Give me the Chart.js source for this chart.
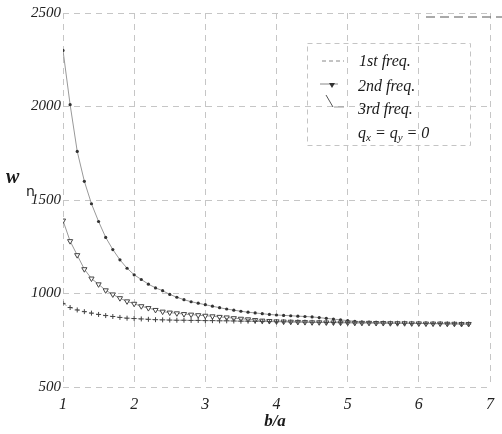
<!DOCTYPE html>
<html>
<head>
<meta charset="utf-8">
<script src="https://cdn.jsdelivr.net/npm/chart.js@4"></script>
<style>
  html, body { margin: 0; padding: 0; background: #fff; }
  #wrap { width: 502px; height: 434px; }
</style>
</head>
<body>
<div id="wrap"><canvas id="grafico"></canvas></div>
<script>
// b/a values
const bRatio = [1.0, 1.1, 1.2, 1.3, 1.4, 1.5, 1.6, 1.7, 1.8, 1.9,
  2.0, 2.1, 2.2, 2.3, 2.4, 2.5, 2.6, 2.7, 2.8, 2.9,
  3.0, 3.1, 3.2, 3.3, 3.4, 3.5, 3.6, 3.7, 3.8, 3.9,
  4.0, 4.1, 4.2, 4.3, 4.4, 4.5, 4.6, 4.7, 4.8, 4.9,
  5.0, 5.1, 5.2, 5.3, 5.4, 5.5, 5.6, 5.7, 5.8, 5.9,
  6.0, 6.1, 6.2, 6.3, 6.4, 6.5, 6.6, 6.7];

const freq1 = [947, 925, 912, 903, 895, 888, 882, 877, 872, 868,
  866, 864, 862, 860, 859, 858, 857, 857, 856, 856,
  855, 855, 854, 854, 853, 852, 852, 851, 850, 850,
  849, 849, 848, 848, 847, 846, 846, 845, 845, 844,
  844, 843, 843, 843, 842, 842, 841, 841, 841, 840,
  840, 839, 839, 839, 838, 838, 837, 837];

const freq2 = [1390, 1280, 1205, 1130, 1080, 1049, 1017, 995, 975, 958,
  945, 932, 922, 912, 903, 898, 894, 890, 887, 884,
  881, 878, 875, 872, 868, 865, 862, 858, 855, 853,
  851, 850, 849, 848, 847, 846, 846, 845, 845, 844,
  844, 843, 843, 843, 842, 842, 841, 841, 841, 840,
  840, 839, 839, 839, 838, 838, 837, 837];

const freq3 = [2300, 2010, 1760, 1600, 1480, 1385, 1300, 1235, 1180, 1135,
  1100, 1075, 1050, 1030, 1015, 995, 980, 967, 956, 948,
  940, 932, 924, 917, 911, 905, 900, 896, 892, 888,
  885, 883, 881, 879, 877, 875, 871, 867, 863, 859,
  855, 851, 847, 845, 844, 843, 842, 842, 841, 841,
  840, 840, 839, 839, 838, 838, 837, 837];

const seriesLabels = ['1st freq.', '2nd freq.', '3rd freq.'];
const xTicks = [1, 2, 3, 4, 5, 6, 7];
const yTicks = [500, 1000, 1500, 2000, 2500];

const serif = '"Liberation Serif", "DejaVu Serif", serif';

function pts(arr) {
  return bRatio.map((x, i) => ({ x: x, y: arr[i] }));
}

// titles, legend box and the stray dashed line of the scan
const decor = {
  id: 'decor',
  afterDraw(chart) {
    const ctx = chart.ctx;
    ctx.save();
    ctx.fillStyle = '#1a1a1a';
    ctx.textBaseline = 'middle';

    // y title: w with subscript n
    ctx.font = 'bold italic 20px ' + serif;
    ctx.textAlign = 'left';
    ctx.fillText('w', 6, 178);
    ctx.font = '14px "DejaVu Sans", sans-serif';
    ctx.fillText('n', 26, 192);

    // x title
    ctx.font = 'bold italic 17px ' + serif;
    ctx.textAlign = 'center';
    ctx.fillText('b/a', 275, 422);

    // legend box
    ctx.strokeStyle = '#c4c4c4';
    ctx.lineWidth = 1;
    ctx.setLineDash([5, 4]);
    ctx.strokeRect(307.5, 43.5, 163, 102);

    ctx.strokeStyle = '#888';
    ctx.setLineDash([4, 3]);
    ctx.beginPath(); ctx.moveTo(322, 61); ctx.lineTo(344, 61); ctx.stroke();
    ctx.setLineDash([]);
    ctx.beginPath(); ctx.moveTo(320, 84); ctx.lineTo(338, 84); ctx.stroke();
    ctx.fillStyle = '#333';
    ctx.beginPath(); ctx.moveTo(329, 83); ctx.lineTo(335, 83); ctx.lineTo(332, 88); ctx.closePath(); ctx.fill();
    ctx.strokeStyle = '#555';
    ctx.beginPath(); ctx.moveTo(326, 95); ctx.lineTo(333, 107); ctx.stroke();
    ctx.strokeStyle = '#999';
    ctx.beginPath(); ctx.moveTo(334, 107); ctx.lineTo(344, 107); ctx.stroke();

    ctx.fillStyle = '#1a1a1a';
    ctx.textAlign = 'left';
    ctx.font = 'italic 16px ' + serif;
    ctx.fillText(seriesLabels[0], 359, 62);
    ctx.fillText(seriesLabels[1], 358, 87);
    ctx.fillText(seriesLabels[2], 358, 110);

    // q_x = q_y = 0
    let x = 358;
    const y = 134;
    ctx.fillText('q', x, y); x += ctx.measureText('q').width;
    ctx.font = 'italic 11px ' + serif;
    ctx.fillText('x', x, y + 4); x += ctx.measureText('x').width;
    ctx.font = 'italic 16px ' + serif;
    ctx.fillText(' = q', x, y); x += ctx.measureText(' = q').width;
    ctx.font = 'italic 11px ' + serif;
    ctx.fillText('y', x, y + 4); x += ctx.measureText('y').width;
    ctx.font = 'italic 16px ' + serif;
    ctx.fillText(' = 0', x, y);

    // dark dashes at top right
    ctx.strokeStyle = '#555';
    ctx.setLineDash([9, 5]);
    ctx.beginPath(); ctx.moveTo(426, 17); ctx.lineTo(502, 17); ctx.stroke();
    ctx.restore();
  }
};

const Grafico = document.getElementById('grafico');
const options = {
  responsive: true,
  maintainAspectRatio: false,
  animation: false,
  layout: { padding: { top: 13, right: 5, left: 0, bottom: 0 } },
  plugins: {
    legend: { display: false },
    tooltip: { enabled: false }
  },
  scales: {
    x: {
      type: 'linear',
      min: 1,
      max: 7,
      afterBuildTicks: s => { s.ticks = xTicks.map(v => ({ value: v })); },
      afterFit: s => { s.height = 47; },
      grid: { color: '#c6c6c6', drawTicks: false },
      border: { display: false, dash: [6, 5] },
      ticks: {
        color: '#222',
        padding: 8,
        callback: v => String(v),
        font: { family: serif, style: 'italic', size: 16 }
      }
    },
    y: {
      min: 500,
      max: 2500,
      afterBuildTicks: s => { s.ticks = yTicks.map(v => ({ value: v })); },
      afterFit: s => { s.width = 63; },
      grid: { color: '#c6c6c6', drawTicks: false },
      border: { display: false, dash: [6, 5] },
      ticks: {
        color: '#222',
        padding: 2,
        callback: v => String(v),
        font: { family: serif, style: 'italic', size: 15 }
      }
    }
  }
};

const chartData = {
  datasets: [
    {
      label: seriesLabels[0],
      data: pts(freq1),
      borderColor: '#999',
      borderWidth: 1,
      borderDash: [4, 3],
      pointStyle: 'cross',
      pointRadius: 2.5,
      pointBorderColor: '#444',
      pointBorderWidth: 1
    },
    {
      label: seriesLabels[1],
      data: pts(freq2),
      borderColor: '#999',
      borderWidth: 1,
      pointStyle: 'triangle',
      rotation: 180,
      pointRadius: 3,
      pointBackgroundColor: '#fff',
      pointBorderColor: '#444',
      pointBorderWidth: 1
    },
    {
      label: seriesLabels[2],
      data: pts(freq3),
      borderColor: '#999',
      borderWidth: 1,
      pointStyle: 'circle',
      pointRadius: 1.6,
      pointBackgroundColor: '#333',
      pointBorderColor: '#333',
      pointBorderWidth: 0
    }
  ]
};

const myChart = new Chart(Grafico, {
  type: 'line',
  data: chartData,
  options: options,
  plugins: [decor]
});
</script>
</body>
</html>
